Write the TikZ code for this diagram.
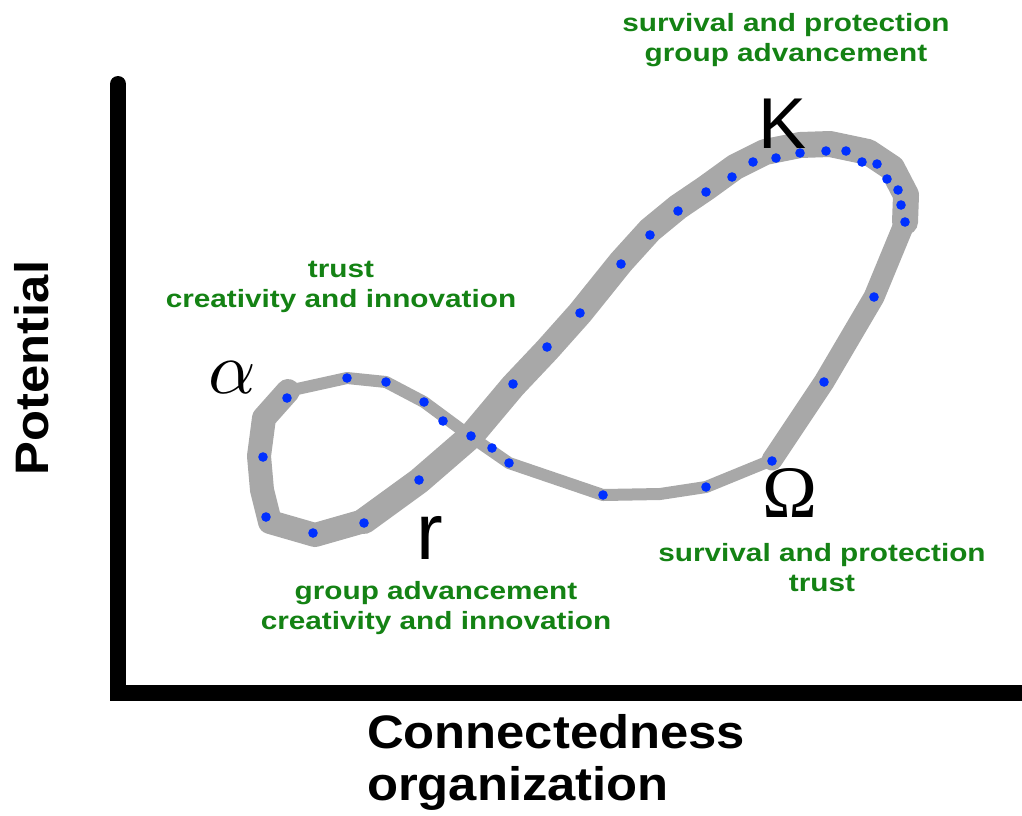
\documentclass[tikz,border=0pt]{standalone}
\usepackage{fontspec}
\setmainfont{Liberation Sans}
\newfontfamily\notefont[FakeStretch=1.19]{Liberation Sans Bold}
\newfontfamily\axisfont[FakeStretch=1.08]{Liberation Sans Bold}
\newfontfamily\greekfont{Liberation Serif}
\usepackage{tikz}

\definecolor{notegreen}{RGB}{20,130,20}
\definecolor{loopgray}{RGB}{168,168,168}
\definecolor{dotblue}{RGB}{0,48,255}

\tikzset{
  axis/.style={line width=16pt, line cap=round, line join=miter},
  cycle/.style={draw=loopgray, line cap=round, line join=round},
  phase/.style={inner sep=0pt},
  note/.style={text=notegreen, align=center, inner sep=0pt, font=\notefont\fontsize{25}{30}\selectfont},
  axislabel/.style={inner sep=0pt, font=\axisfont\fontsize{47}{52}\selectfont}
}

\begin{document}
\begin{tikzpicture}[x=1pt,y=-1pt]
  \useasboundingbox (0,0) rectangle (1022,815);

  % Axes
  \coordinate (ytop) at (118,84);
  \coordinate (origin) at (118,693);
  \coordinate (xend) at (1040,693);
  \draw[axis] (ytop) -- (origin) -- (xend);

  % Adaptive cycle (thin back loop, then the thick front loop)
  \draw[cycle, line width=12pt] (288,391) -- (347,378) -- (386,382) -- (424,402)
    -- (470,436) -- (509,463) -- (603,495) -- (660,494) -- (706,487) -- (772,460); % alpha to Omega
  \draw[cycle, line width=21pt] (772,460) -- (824,382) -- (874,297) -- (905,222); % Omega to K
  \draw[cycle, line width=26pt] (905,222) -- (906,195) -- (892,168) -- (868,152)
    -- (830,144) -- (800,145) -- (765,152) -- (735,167) -- (706,188) -- (678,207)
    -- (650,230) -- (621,262) -- (580,313) -- (547,350) -- (513,386) -- (471,436)
    -- (419,481) -- (364,521); % K to r
  \draw[cycle, line width=24pt] (364,521) -- (315,535) -- (270,522) -- (262,490)
    -- (259,456) -- (264,418) -- (288,391); % r to alpha

  % Dots along the cycle
  \foreach \p in {(287,398),(347,378),(386,382),(424,402),(443,421),(471,436),
                  (492,448),(509,463),(603,495),(706,487),(772,461),(824,382),
                  (874,297),(905,222),(901,205),(898,190),(887,179),(877,164),
                  (862,162),(846,151),(826,151),(800,153),(776,158),(753,162),
                  (732,177),(706,192),(678,211),(650,235),(621,264),(580,313),
                  (547,347),(513,384),(419,480),(364,523),(313,533),(266,517),
                  (263,457)}
    \fill[dotblue] \p circle (4.8pt);

  % Phase letters
  \node[phase] (alpha) at (232,378) {\scalebox{7.4}{$\alpha$}};
  \node[phase, font=\fontsize{72}{72}\selectfont] (K) at (783,124) {K};
  \node[phase, font=\fontsize{80}{80}\selectfont] (r) at (430,538) {r};
  \node[phase, font=\greekfont\fontsize{74}{74}\selectfont] (Omega) at (790,493) {Ω};

  % Notes for each phase
  \node[note] (noteK) at (786,40) {survival and protection\\group advancement};
  \node[note] (noteAlpha) at (341,287) {trust\\creativity and innovation};
  \node[note] (noteR) at (436,608) {group advancement\\creativity and innovation};
  \node[note] (noteOmega) at (822,568) {survival and protection\\trust};

  % Axis labels
  \node[axislabel, align=left] (xlabel) at (556,762) {Connectedness\\organization};
  \node[axislabel, rotate=90] (ylabel) at (32,368) {Potential};

\end{tikzpicture}
\end{document}
